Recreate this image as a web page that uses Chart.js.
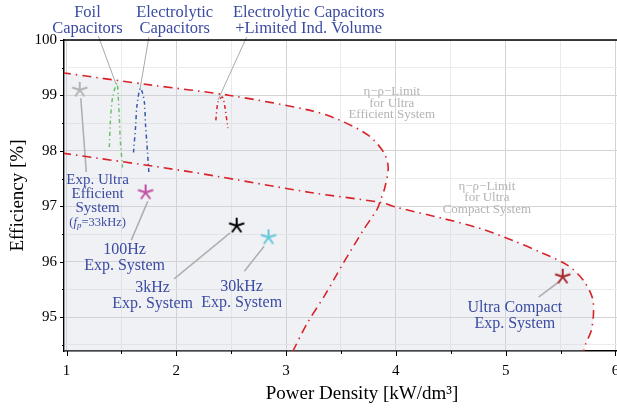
<!DOCTYPE html>
<html>
<head>
<meta charset="utf-8">
<script src="https://cdn.jsdelivr.net/npm/chart.js@4.4.1/dist/chart.umd.min.js"></script>
<style>
  html, body { margin: 0; padding: 0; background: #fff; overflow: hidden; }
  #wrap { width: 617px; height: 410px; overflow: hidden; }
</style>
</head>
<body>
<div id="wrap"><canvas id="chart" width="680" height="410"></canvas></div>
<script>
// eta-rho limit of the ultra efficient design (power density kW/dm3, efficiency %)
const effLimitX = [0.96, 1.76, 2.49, 3.22, 3.47, 3.75, 3.89, 3.93, 3.90, 3.86, 3.83, 3.70, 3.52, 3.36, 3.19, 3.06];
const effLimitY = [99.41, 99.19, 99.00, 98.73, 98.57, 98.28, 97.97, 97.70, 97.34, 97.11, 96.95, 96.56, 95.97, 95.42, 94.88, 94.38];

// eta-rho limit of the ultra compact design
const cmpLimitX = [0.96, 2.10, 3.22, 3.86, 4.01, 4.43, 4.77, 5.07, 5.32, 5.57, 5.71, 5.79, 5.80, 5.78, 5.73, 5.71];
const cmpLimitY = [97.96, 97.63, 97.25, 97.07, 96.98, 96.78, 96.60, 96.38, 96.17, 95.93, 95.66, 95.35, 95.06, 94.76, 94.52, 94.38];

// DC-link capacitor variants
const foilX = [1.39, 1.40, 1.42, 1.46, 1.47, 1.48, 1.49, 1.51];
const foilY = [98.07, 98.55, 98.97, 99.22, 99.00, 98.64, 98.19, 97.70];
const elcoX = [1.61, 1.63, 1.64, 1.67, 1.69, 1.71, 1.72, 1.73, 1.75];
const elcoY = [97.97, 98.46, 98.79, 99.13, 99.06, 98.86, 98.46, 98.19, 97.61];
const elcoIndX = [2.36, 2.38, 2.42, 2.44, 2.47];
const elcoIndY = [98.55, 98.88, 98.97, 98.82, 98.41];

// measured systems
const sysNames = ['Exp. Ultra Efficient', '100Hz', '3kHz', '30kHz', 'Ultra Compact'];
const sysDensity = [1.12, 1.72, 2.55, 2.84, 5.52];
const sysEfficiency = [99.10, 97.25, 96.65, 96.44, 95.73];

const xTicks = [1, 1.5, 2, 2.5, 3, 3.5, 4, 4.5, 5, 5.5, 6];
const yTicks = [94.5, 95, 95.5, 96, 96.5, 97, 97.5, 98, 98.5, 99, 99.5, 100];

const RED = '#d8232a';
const BLUE = '#3b4ba2';
const SERIF = '"Liberation Serif", "DejaVu Serif", serif';
const sysColors = ['#b3b3b3', '#c04fa4', '#000000', '#62c8dc', '#a8262d'];

const pts = (xs, ys) => xs.map((x, i) => ({ x, y: ys[i] }));

// five-armed star marker
function starMark(color) {
  const c = document.createElement('canvas');
  c.width = 20; c.height = 20;
  const g = c.getContext('2d');
  g.strokeStyle = color;
  g.lineWidth = 2;
  g.beginPath();
  for (let k = 0; k < 5; k++) {
    const a = -Math.PI / 2 + k * 2 * Math.PI / 5;
    g.moveTo(10, 10);
    g.lineTo(10 + 8 * Math.cos(a), 10 + 8 * Math.sin(a));
  }
  g.stroke();
  return c;
}

// shaded area below both limits
const regionX = effLimitX.slice(0, 10).concat(cmpLimitX.slice(4), [5.70, 0.90]);
const regionY = effLimitY.slice(0, 10).concat(cmpLimitY.slice(4), [94.2, 94.2]);

// leader lines [x1, y1, x2, y2]
const leaders = [
  [1.13, 98.95, 1.18, 97.62],
  [1.59, 96.39, 1.74, 97.09],
  [1.98, 95.69, 2.49, 96.52],
  [2.62, 95.83, 2.80, 96.28],
  [5.30, 95.36, 5.48, 95.63]
];
const topLeaders = [
  [1.29, 100.07, 1.45, 99.21],
  [1.75, 100.05, 1.67, 99.12],
  [2.64, 100.05, 2.38, 98.92]
];

const notes = [
  { x: 1.191, y: 100.343, lines: ['Foil', 'Capacitors'], color: BLUE, size: 16.5, lh: 16 },
  { x: 1.985, y: 100.343, lines: ['Electrolytic', 'Capacitors'], color: BLUE, size: 16.5, lh: 16 },
  { x: 3.206, y: 100.343, lines: ['Electrolytic Capacitors', '+Limited Ind. Volume'], color: BLUE, size: 16.5, lh: 16 },
  { x: 3.963, y: 98.854, lines: ['η−ρ−Limit', 'for Ultra', 'Efficient System'], color: '#b4b4b4', size: 13, lh: 11.5 },
  { x: 4.829, y: 97.157, lines: ['η−ρ−Limit', 'for Ultra', 'Compact System'], color: '#b4b4b4', size: 13, lh: 11.5 },
  { x: 1.283, y: 97.22, lines: ['Exp. Ultra', 'Efficient', 'System'], color: BLUE, size: 15, lh: 14 },
  { x: 1.529, y: 96.065, lines: ['100Hz', 'Exp. System'], color: BLUE, size: 16, lh: 16 },
  { x: 1.784, y: 95.388, lines: ['3kHz', 'Exp. System'], color: BLUE, size: 16, lh: 16 },
  { x: 2.595, y: 95.397, lines: ['30kHz', 'Exp. System'], color: BLUE, size: 16, lh: 16 },
  { x: 5.084, y: 95.018, lines: ['Ultra Compact', 'Exp. System'], color: BLUE, size: 16, lh: 16 }
];

const lineSet = (data, color, dash, width) => ({
  data, showLine: true, borderColor: color, borderWidth: width, borderDash: dash,
  pointRadius: 0, tension: 0.3, fill: false
});

const datasets = [
  {
    data: pts(sysDensity, sysEfficiency),
    pointStyle: sysColors.map(starMark),
    pointRadius: 8, showLine: false
  },
  lineSet(pts(effLimitX, effLimitY), RED, [9, 5, 1.5, 5], 1.6),
  lineSet(pts(cmpLimitX, cmpLimitY), RED, [9, 5, 1.5, 5], 1.6),
  lineSet(pts(foilX, foilY), '#6cc06b', [4, 3, 1.2, 3], 1.5),
  lineSet(pts(elcoX, elcoY), '#3858ad', [4, 3, 1.2, 3], 1.5),
  lineSet(pts(elcoIndX, elcoIndY), RED, [4, 3, 1.2, 3], 1.5)
];
leaders.forEach(l => datasets.push({
  data: [{ x: l[0], y: l[1] }, { x: l[2], y: l[3] }],
  showLine: true, borderColor: '#b0b0b0', borderWidth: 1.6, pointRadius: 0
}));
topLeaders.forEach(l => datasets.push({
  data: [{ x: l[0], y: l[1] }, { x: l[2], y: l[3] }],
  showLine: true, borderColor: '#a8a8a8', borderWidth: 1, pointRadius: 0, clip: false
}));
datasets.push({
  data: pts(regionX, regionY),
  showLine: true, fill: 'shape', backgroundColor: 'rgba(205,210,220,0.32)',
  borderWidth: 0, borderColor: 'rgba(0,0,0,0)', pointRadius: 0, tension: 0.3, order: 10
});

const gridColor = c => (c.tick && Number.isInteger(c.tick.value)) ? '#d3d3d3' : '#ebebeb';

const decorations = {
  id: 'decorations',
  afterDatasetsDraw(chart) {
    const { ctx, chartArea: a, scales: { x, y } } = chart;
    ctx.save();
    // frame top and tick marks
    ctx.strokeStyle = '#000';
    ctx.lineWidth = 1.5;
    ctx.beginPath();
    ctx.moveTo(a.left, a.top);
    ctx.lineTo(a.right, a.top);
    ctx.stroke();
    ctx.lineWidth = 1;
    ctx.beginPath();
    xTicks.forEach(v => {
      const p = Math.round(x.getPixelForValue(v)) + 0.5;
      ctx.moveTo(p, a.bottom);
      ctx.lineTo(p, a.bottom + (Number.isInteger(v) ? 5 : 3));
    });
    yTicks.forEach(v => {
      const p = Math.round(y.getPixelForValue(v)) + 0.5;
      ctx.moveTo(a.left, p);
      ctx.lineTo(a.left - (Number.isInteger(v) ? 4 : 2), p);
    });
    ctx.stroke();

    ctx.textAlign = 'center';
    ctx.textBaseline = 'middle';
    notes.forEach(n => {
      const px = x.getPixelForValue(n.x);
      const py = y.getPixelForValue(n.y);
      ctx.fillStyle = n.color;
      ctx.font = n.size + 'px ' + SERIF;
      n.lines.forEach((t, i) => {
        ctx.fillText(t, px, py + (i - (n.lines.length - 1) / 2) * n.lh);
      });
    });

    // "(f_p=33kHz)" with italic f and subscript p
    const runs = [
      { t: '(', f: '12.5px ' + SERIF, dy: 0 },
      { t: 'f', f: 'italic 12.5px ' + SERIF, dy: 0 },
      { t: 'p', f: 'italic 9px ' + SERIF, dy: 3 },
      { t: '=33kHz)', f: '12.5px ' + SERIF, dy: 0 }
    ];
    let w = 0;
    runs.forEach(r => { ctx.font = r.f; r.w = ctx.measureText(r.t).width; w += r.w; });
    let cx = x.getPixelForValue(1.283) - w / 2;
    const cy = y.getPixelForValue(96.697);
    ctx.textAlign = 'left';
    ctx.fillStyle = BLUE;
    runs.forEach(r => { ctx.font = r.f; ctx.fillText(r.t, cx, cy + r.dy); cx += r.w; });
    ctx.restore();
  }
};

new Chart(document.getElementById('chart'), {
  type: 'scatter',
  data: { datasets },
  options: {
    responsive: false,
    animation: false,
    devicePixelRatio: 1,
    layout: { padding: { top: 40, right: 20, left: 0, bottom: 0 } },
    plugins: { legend: { display: false }, tooltip: { enabled: false } },
    scales: {
      x: {
        type: 'linear', min: 0.977, max: 6.406,
        afterBuildTicks: s => { s.ticks = xTicks.map(v => ({ value: v })); },
        afterFit: s => { s.height = 59; },
        ticks: {
          callback: v => Number.isInteger(v) ? String(v) : '',
          color: '#000', font: { family: SERIF, size: 15 }, padding: 6, maxRotation: 0, autoSkip: false
        },
        grid: { color: gridColor, lineWidth: 1, tickLength: 5, tickColor: 'rgba(0,0,0,0)' },
        border: { color: '#000', width: 1.5 },
        title: {
          display: true, text: 'Power Density [kW/dm³]', color: '#000',
          font: { family: SERIF, size: 19 }, padding: { top: 0, bottom: 5 }
        }
      },
      y: {
        type: 'linear', min: 94.39, max: 100,
        afterBuildTicks: s => { s.ticks = yTicks.map(v => ({ value: v })); },
        afterFit: s => { s.width = 64; },
        ticks: {
          callback: v => Number.isInteger(v) ? String(v) : '',
          color: '#000', font: { family: SERIF, size: 15 }, padding: 3, autoSkip: false
        },
        grid: { color: gridColor, lineWidth: 1, tickLength: 4, tickColor: 'rgba(0,0,0,0)' },
        border: { color: '#000', width: 1.5 },
        title: {
          display: true, text: 'Efficiency [%]', color: '#000',
          font: { family: SERIF, size: 19 }, padding: { top: 7, bottom: 0 }
        }
      }
    }
  },
  plugins: [decorations]
});
</script>
</body>
</html>
